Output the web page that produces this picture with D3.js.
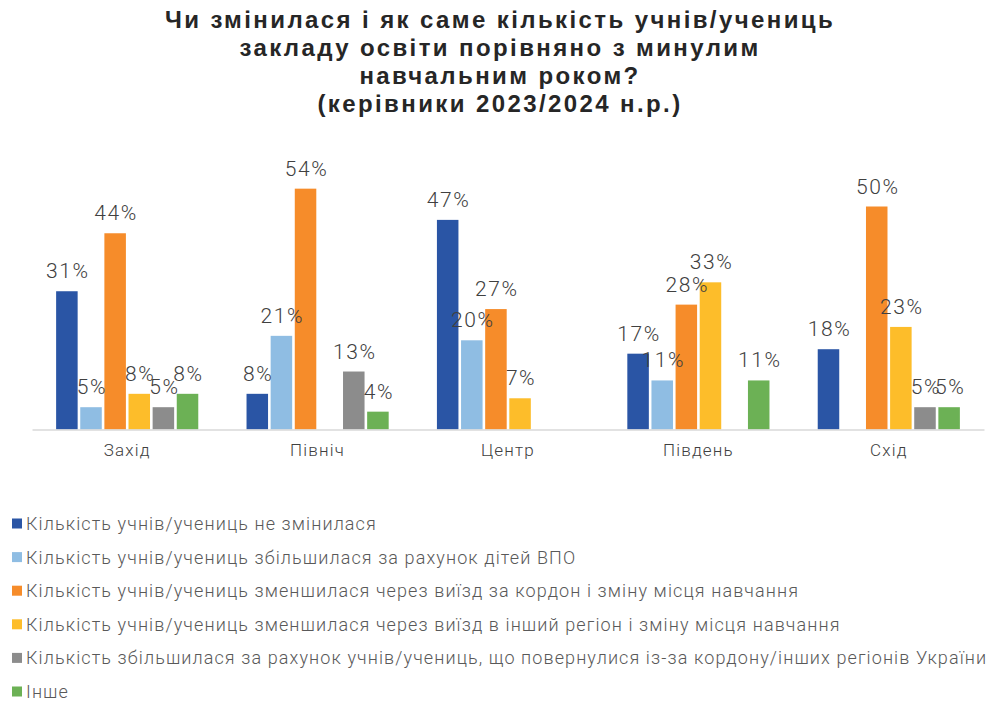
<!DOCTYPE html>
<html>
<head>
<meta charset="utf-8">
<script src="https://cdn.jsdelivr.net/npm/d3@7"></script>
<style>
  body { margin: 0; background: #fff; }
  svg text { font-family: Roboto, "Noto Sans", sans-serif; }
</style>
</head>
<body>
<div id="wrapper"></div>
<script>
var regions = ["Захід", "Північ", "Центр", "Південь", "Схід"];
var seriesNames = [
  "Кількість учнів/учениць не змінилася",
  "Кількість учнів/учениць збільшилася за рахунок дітей ВПО",
  "Кількість учнів/учениць зменшилася через виїзд за кордон і зміну місця навчання",
  "Кількість учнів/учениць зменшилася через виїзд в інший регіон і зміну місця навчання",
  "Кількість збільшилася за рахунок учнів/учениць, що повернулися із-за кордону/інших регіонів України",
  "Інше"
];
var colors = ["#2a55a5", "#8fbde3", "#f68c2a", "#fdbd2a", "#8c8c8c", "#6cb155"];
// values per series, in region order (null = no bar)
var notChanged   = [31, 8, 47, 17, 18];
var idpIncrease  = [5, 21, 20, 11, null];
var abroadDecr   = [44, 54, 27, 28, 50];
var regionDecr   = [8, null, 7, 33, 23];
var returnedIncr = [5, 13, null, null, 5];
var otherVals    = [8, 4, null, 11, 5];
var series = [notChanged, idpIncrease, abroadDecr, regionDecr, returnedIncr, otherVals];
var titleLines = [
  "Чи змінилася і як саме кількість учнів/учениць",
  "закладу освіти порівняно з минулим",
  "навчальним роком?",
  "(керівники 2023/2024 н.р.)"
];

var W = 995, H = 701;
var svg = d3.select('#wrapper').append('svg')
  .attr('width', W).attr('height', H);

// title
svg.append('g').selectAll('text')
  .data(titleLines)
  .enter().append('text')
  .attr('x', 500)
  .attr('y', function(d, i) { return 28 + i * 28; })
  .attr('text-anchor', 'middle')
  .style('font-family', '"Liberation Sans", Arial, sans-serif')
  .style('font-weight', 'bold')
  .style('font-size', '24px')
  .style('letter-spacing', '2.4px')
  .style('fill', '#262626')
  .text(function(d) { return d; });

var baseY = 429.5;
var x = d3.scaleBand().domain(regions).range([32, 984]).padding(0);
var xs = d3.scaleBand().domain(d3.range(6)).range([0, x.bandwidth()])
  .paddingInner(0.108).paddingOuter(1);
var y = d3.scaleLinear().domain([0, 60]).range([baseY, baseY - 4.46 * 60]);

var flat = [];
series.forEach(function(vals, s) {
  vals.forEach(function(v, r) {
    if (v != null) flat.push({s: s, r: regions[r], v: v});
  });
});

svg.append('g').selectAll('rect')
  .data(flat)
  .enter().append('rect')
  .attr('x', function(d) { return x(d.r) + xs(d.s); })
  .attr('width', xs.bandwidth())
  .attr('y', function(d) { return y(d.v); })
  .attr('height', function(d) { return baseY - y(d.v); })
  .style('fill', function(d) { return colors[d.s]; });

// x axis
var axis = svg.append('g')
  .attr('transform', 'translate(0,' + baseY + ')')
  .call(d3.axisBottom(x).tickSize(0).tickPadding(14));
axis.select('.domain').attr('stroke', '#d9d9d9').attr('stroke-width', 1.5);
axis.selectAll('text')
  .style('font-family', 'Roboto, sans-serif')
  .style('font-weight', '300')
  .style('font-size', '17px')
  .style('letter-spacing', '1.2px')
  .style('fill', '#404040');

// value labels
svg.append('g').selectAll('text')
  .data(flat)
  .enter().append('text')
  .attr('x', function(d) { return x(d.r) + xs(d.s) + xs.bandwidth() / 2 + 1; })
  .attr('y', function(d) { return y(d.v) - 13; })
  .attr('text-anchor', 'middle')
  .style('font-weight', '300')
  .style('font-size', '21px')
  .style('letter-spacing', '1.6px')
  .style('fill', '#404040')
  .text(function(d) { return d.v + '%'; });

// legend
var leg = svg.append('g').selectAll('g')
  .data(seriesNames)
  .enter().append('g')
  .attr('transform', function(d, i) { return 'translate(12,' + (523.5 + i * 33.6) + ')'; });
leg.append('rect')
  .attr('x', 0).attr('y', -5).attr('width', 10).attr('height', 10)
  .style('fill', function(d, i) { return colors[i]; });
leg.append('text')
  .attr('x', 14).attr('y', 6.5)
  .style('font-weight', '300')
  .style('font-size', '18px')
  .style('letter-spacing', '1.1px')
  .style('fill', '#595959')
  .text(function(d) { return d; });
</script>
</body>
</html>
